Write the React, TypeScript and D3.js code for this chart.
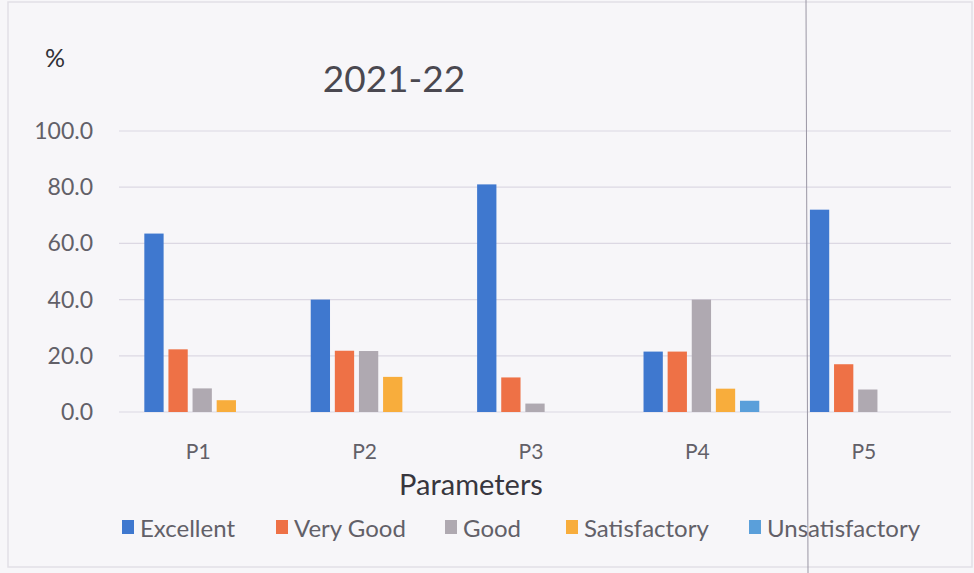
import React, { useEffect, useRef } from 'react';
import * as d3 from 'd3';

const categories = ['P1', 'P2', 'P3', 'P4', 'P5'];
const seriesNames = ['Excellent', 'Very Good', 'Good', 'Satisfactory', 'Unsatisfactory'];
const excellent = [63.5, 40.0, 81.0, 21.5, 72.0];
const veryGood = [22.3, 21.8, 12.3, 21.5, 17.0];
const good = [8.4, 21.7, 3.0, 40.0, 8.0];
const satisfactory = [4.2, 12.5, 0, 8.3, 0];
const unsatisfactory = [0, 0, 0, 4.0, 0];
const yTicks = [0, 20, 40, 60, 80, 100];
const colors = ['#3F78CF', '#EE7146', '#AFA9B1', '#F8AD3C', '#5A9FDA'];

const W = 974;
const H = 573;

export default function App() {
  const svgRef = useRef<SVGSVGElement>(null);

  useEffect(() => {
    if (!svgRef.current) return;
    const svg = d3.select(svgRef.current);
    svg.selectAll('*').remove();

    const font = 'Lato, "Open Sans", sans-serif';
    const series = [excellent, veryGood, good, satisfactory, unsatisfactory];

    svg.append('rect').attr('width', W).attr('height', H).attr('fill', '#f7f6f9');
    svg.append('rect')
      .attr('x', 8).attr('y', 2).attr('width', W - 10).attr('height', H - 8)
      .attr('fill', 'none').attr('stroke', '#e2dfe6').attr('stroke-width', 1.5);

    const margin = { top: 131, right: 23, bottom: 161, left: 119 };
    const x = d3.scaleBand().domain(categories).range([margin.left, W - margin.right]);
    const inner = d3.scaleBand()
      .domain(seriesNames)
      .range([0, x.bandwidth()])
      .paddingInner(0.2)
      .paddingOuter(1.05);
    const y = d3.scaleLinear().domain([0, 100]).range([H - margin.bottom, margin.top]);

    // grid
    svg.append('g')
      .selectAll('line')
      .data(yTicks)
      .enter()
      .append('line')
      .attr('x1', margin.left)
      .attr('x2', W - margin.right)
      .attr('y1', d => y(d))
      .attr('y2', d => y(d))
      .attr('stroke', '#dcd8e3')
      .attr('stroke-width', 1.2);

    // y tick labels
    svg.append('g')
      .selectAll('text')
      .data(yTicks)
      .enter()
      .append('text')
      .attr('x', 93)
      .attr('y', d => y(d))
      .attr('dy', '0.35em')
      .attr('text-anchor', 'end')
      .attr('font-family', font)
      .attr('font-size', 23)
      .attr('fill', '#626068')
      .text(d => d3.format('.1f')(d));

    // bars
    seriesNames.forEach((name, si) => {
      svg.append('g')
        .selectAll('rect')
        .data(series[si].map((v, i) => ({ v, c: categories[i] })).filter(d => d.v > 0))
        .enter()
        .append('rect')
        .attr('x', d => (x(d.c) as number) + (inner(name) as number))
        .attr('y', d => y(d.v))
        .attr('width', inner.bandwidth())
        .attr('height', d => y(0) - y(d.v))
        .attr('fill', colors[si]);
    });

    // category labels
    svg.append('g')
      .selectAll('text')
      .data(categories)
      .enter()
      .append('text')
      .attr('x', d => (x(d) as number) + x.bandwidth() / 2 - 4)
      .attr('y', 459)
      .attr('text-anchor', 'middle')
      .attr('font-family', font)
      .attr('font-size', 21)
      .attr('fill', '#626068')
      .text(d => d);

    // titles
    svg.append('text')
      .attr('x', 394).attr('y', 92)
      .attr('text-anchor', 'middle')
      .attr('font-family', font)
      .attr('font-size', 37)
      .attr('fill', '#4a4850')
      .text('2021-22');

    svg.append('text')
      .attr('x', 55).attr('y', 67)
      .attr('text-anchor', 'middle')
      .attr('font-family', font)
      .attr('font-size', 25)
      .attr('fill', '#303036')
      .text('%');

    svg.append('text')
      .attr('x', 471).attr('y', 495)
      .attr('text-anchor', 'middle')
      .attr('font-family', font)
      .attr('font-size', 29)
      .attr('fill', '#38363e')
      .text('Parameters');

    // legend
    const legendX = [122, 276, 445, 566, 749];
    const lg = svg.append('g');
    seriesNames.forEach((name, i) => {
      lg.append('rect')
        .attr('x', legendX[i]).attr('y', 520)
        .attr('width', 12).attr('height', 14)
        .attr('fill', colors[i]);
      lg.append('text')
        .attr('x', legendX[i] + 18).attr('y', 537)
        .attr('font-family', font)
        .attr('font-size', 24)
        .attr('fill', '#626068')
        .text(name);
    });

    // fold line in the photo
    svg.append('line')
      .attr('x1', 806).attr('x2', 808)
      .attr('y1', 0).attr('y2', H)
      .attr('stroke', '#9a96a4')
      .attr('stroke-width', 1);
  }, []);

  return (
    <svg
      ref={svgRef}
      width={W}
      height={H}
      style={{ position: 'absolute', left: 0, top: 0 }}
    />
  );
}
